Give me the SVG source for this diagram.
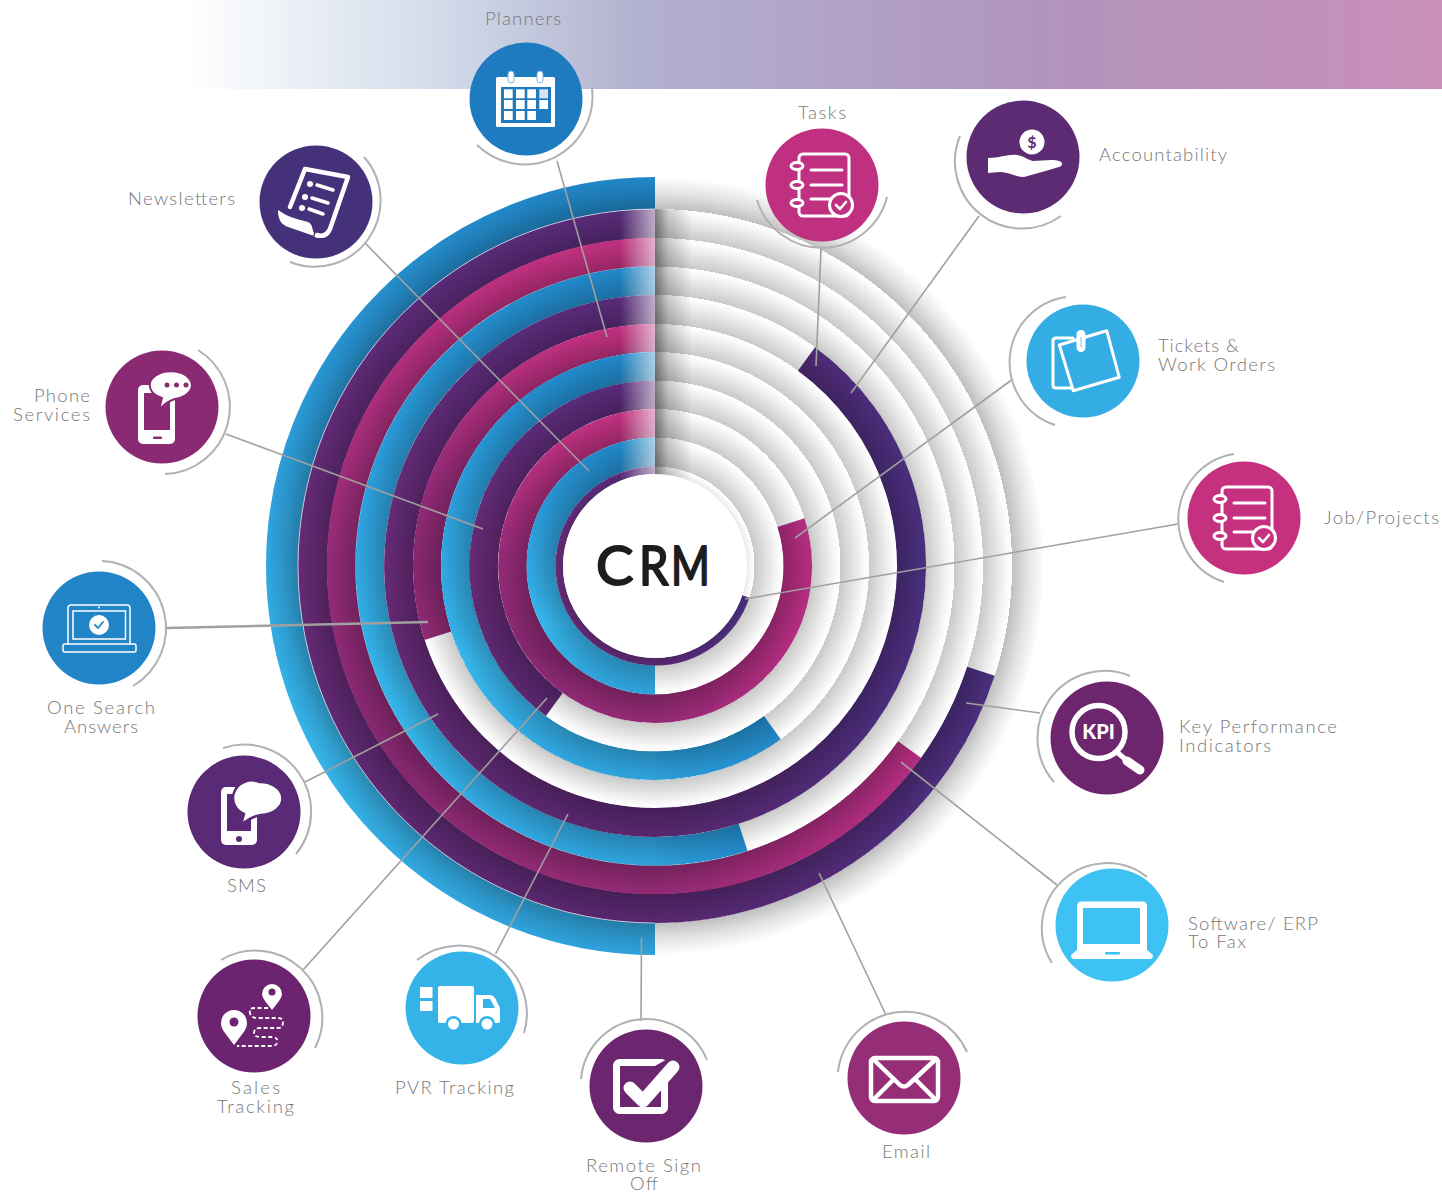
<svg xmlns="http://www.w3.org/2000/svg" width="1442" height="1193" viewBox="0 0 1442 1193">
<style>
.t{font-family:"Lato","Open Sans","Liberation Sans",sans-serif;font-weight:300;font-size:18.5px;fill:#777}
.bL{fill:none;stroke:url(#blueL)}.bR{fill:none;stroke:url(#blueR)}
.pL{fill:none;stroke:url(#purL)}.pR{fill:none;stroke:url(#purR)}
.mL{fill:none;stroke:url(#magL)}.mR{fill:none;stroke:url(#magR)}
.con{stroke:#a0a0a0;stroke-width:1.6;fill:none}
.arc{stroke:#b1b1b3;stroke-width:2;fill:none}
.w{fill:#fff}.ws{fill:none;stroke:#fff;stroke-linecap:round;stroke-linejoin:round}
</style>
<defs>
<linearGradient id="head" x1="0" x2="1" y1="0" y2="0"><stop offset="0" stop-color="#fff"/><stop offset=".2" stop-color="#d2dcea"/><stop offset=".36" stop-color="#b2b1cf"/><stop offset=".68" stop-color="#b194bc"/><stop offset="1" stop-color="#c98fb9"/></linearGradient>
<linearGradient id="blueL" x1="0" y1="0" x2="0" y2="1"><stop offset="0" stop-color="#2188c9"/><stop offset=".45" stop-color="#30a5e0"/><stop offset=".75" stop-color="#37b7ec"/><stop offset="1" stop-color="#2fa3dd"/></linearGradient>
<linearGradient id="blueR" x1="0" y1="0" x2="1" y2="0"><stop offset="0" stop-color="#2da0dc"/><stop offset="1" stop-color="#2289c8"/></linearGradient>
<linearGradient id="purL" x1="0" y1="0" x2="0" y2="1"><stop offset="0" stop-color="#582a78"/><stop offset=".5" stop-color="#662a74"/><stop offset="1" stop-color="#58276e"/></linearGradient>
<linearGradient id="purR" x1="0" y1="0" x2="1" y2="0"><stop offset="0" stop-color="#58276e"/><stop offset="1" stop-color="#4a2e7c"/></linearGradient>
<linearGradient id="magL" x1="0" y1="0" x2="0" y2="1"><stop offset="0" stop-color="#c0307f"/><stop offset=".5" stop-color="#932b78"/><stop offset=".8" stop-color="#862770"/><stop offset="1" stop-color="#922a74"/></linearGradient>
<linearGradient id="magR" x1="0" y1="0" x2="1" y2="0"><stop offset="0" stop-color="#922a74"/><stop offset="1" stop-color="#b42d80"/></linearGradient>
<radialGradient id="saw" gradientUnits="userSpaceOnUse" cx="655" cy="566" r="395">
<stop offset="23.29%" stop-opacity=".08"/><stop offset="25%" stop-opacity="0"/><stop offset="25.19%" stop-opacity="0"/>
<stop offset="25.19%" stop-opacity=".21"/><stop offset="28.49%" stop-opacity=".11"/><stop offset="31.43%" stop-opacity=".02"/><stop offset="32.53%" stop-opacity="0"/>
<stop offset="32.53%" stop-opacity=".21"/><stop offset="35.78%" stop-opacity=".11"/><stop offset="38.67%" stop-opacity=".02"/><stop offset="39.75%" stop-opacity="0"/>
<stop offset="39.75%" stop-opacity=".21"/><stop offset="42.99%" stop-opacity=".11"/><stop offset="45.88%" stop-opacity=".02"/><stop offset="46.96%" stop-opacity="0"/>
<stop offset="46.96%" stop-opacity=".21"/><stop offset="50.21%" stop-opacity=".11"/><stop offset="53.1%" stop-opacity=".02"/><stop offset="54.18%" stop-opacity="0"/>
<stop offset="54.18%" stop-opacity=".21"/><stop offset="57.37%" stop-opacity=".11"/><stop offset="60.21%" stop-opacity=".02"/><stop offset="61.27%" stop-opacity="0"/>
<stop offset="61.27%" stop-opacity=".21"/><stop offset="64.57%" stop-opacity=".11"/><stop offset="67.51%" stop-opacity=".02"/><stop offset="68.61%" stop-opacity="0"/>
<stop offset="68.61%" stop-opacity=".21"/><stop offset="71.85%" stop-opacity=".11"/><stop offset="74.74%" stop-opacity=".02"/><stop offset="75.82%" stop-opacity="0"/>
<stop offset="75.82%" stop-opacity=".21"/><stop offset="79.07%" stop-opacity=".11"/><stop offset="81.95%" stop-opacity=".02"/><stop offset="83.04%" stop-opacity="0"/>
<stop offset="83.04%" stop-opacity=".21"/><stop offset="86.34%" stop-opacity=".11"/><stop offset="89.28%" stop-opacity=".02"/><stop offset="90.38%" stop-opacity="0"/>
<stop offset="90.38%" stop-opacity=".25"/><stop offset="94.37%" stop-opacity=".11"/><stop offset="98.6%" stop-opacity="0"/>
</radialGradient>
<linearGradient id="fade"><stop offset="0" stop-color="#fff" stop-opacity="0"/><stop offset="1" stop-color="#fff" stop-opacity=".62"/></linearGradient>
<linearGradient id="shade"><stop offset="0" stop-opacity=".5"/><stop offset=".35" stop-opacity=".2"/><stop offset="1" stop-opacity="0"/></linearGradient>
<clipPath id="c357"><circle cx="655" cy="566" r="357"/></clipPath>
<g id="notebook">
<rect x="-23" y="-31" width="50" height="62" rx="4" fill="none" stroke="#fff" stroke-width="3"/>
<g fill="currentColor" stroke="#fff" stroke-width="3"><ellipse cx="-25" cy="-19" rx="6" ry="3.5"/><ellipse cx="-25" cy="0" rx="6" ry="3.5"/><ellipse cx="-25" cy="18" rx="6" ry="3.5"/></g>
<path class="ws" stroke-width="3" d="M-11-15H20M-11 0H20M-11 14H8"/>
<circle cx="19" cy="20" r="11.5" fill="currentColor" stroke="#fff" stroke-width="3"/>
<path class="ws" stroke-width="2.6" d="M14 20l4 4 6-7"/>
</g>
</defs>

<rect x="185" y="0" width="1257" height="89" fill="url(#head)"/>

<g id="rings" stroke-linecap="butt">
<path class="bL" stroke-width="32" d="M655 193A373 373 0 0 0 655 939"/>
<path class="pL" stroke-width="29" d="M655 223.5A342.500 342.500 0 0 0 655 908.5"/>
<path class="pR" stroke-width="29" d="M654.500 908.500A342.500 342.500 0 0 0 980.900 671.300"/>
<path class="mL" stroke-width="28.500" d="M655 252A314 314 0 0 0 655 880"/>
<path class="mR" stroke-width="28.500" d="M654.500 880A314 314 0 0 0 909.700 749.700"/>
<path class="bL" stroke-width="28.500" d="M655 280.750A285.250 285.250 0 0 0 655 851.250"/>
<path class="bR" stroke-width="28.500" d="M654.500 851.250A285.250 285.250 0 0 0 743.100 837.300"/>
<path class="pL" stroke-width="29" d="M655 309.500A256.500 256.500 0 0 0 655 822.500"/>
<path class="pR" stroke-width="29" d="M654.500 822.500A256.500 256.500 0 0 0 806.500 359"/>
<path class="mL" stroke-width="28" d="M655 338A228 228 0 0 0 437.900 635.700"/>
<path class="bL" stroke-width="28.500" d="M655 366.250A199.750 199.750 0 0 0 655 765.750"/>
<path class="bR" stroke-width="28.500" d="M654.500 765.750A199.750 199.750 0 0 0 772.400 727.600"/>
<path class="pL" stroke-width="28.500" d="M655 394.750A171.250 171.250 0 0 0 554.300 704.500"/>
<path class="mL" stroke-width="28.500" d="M655 423.250A142.750 142.750 0 0 0 655 708.750"/>
<path class="mR" stroke-width="28.500" d="M654.500 708.750A142.750 142.750 0 0 0 791 522.600"/>
<path class="bL" stroke-width="29" d="M655 452A114 114 0 0 0 655 680"/>
<path class="pL" stroke-width="7.500" d="M655 470.250A95.750 95.750 0 0 0 655 661.750"/>
<path class="pR" stroke-width="7.500" d="M654.500 661.750A95.750 95.750 0 0 0 745.800 596.500"/>
<circle cx="655" cy="566" r="395" fill="url(#saw)"/>
<path d="M655 209A357 357 0 0 0 655 923" fill="none" stroke="#fff" stroke-opacity=".7" stroke-width=".9"/>
<g clip-path="url(#c357)">
<rect x="620" y="205" width="35" height="280" fill="url(#fade)"/>
<rect x="655" y="205" width="37" height="280" fill="url(#shade)"/>
</g>
</g>

<g id="connectors">
<path class="con" d="M557 161L607 337"/>
<path class="con" d="M365 243L589 471"/>
<path class="con" d="M226 434L483 529"/>
<path class="con" style="stroke-width:2.400" d="M167 628L428 622"/>
<path class="con" d="M305 782L438 714"/>
<path class="con" d="M303 970L547 698"/>
<path class="con" d="M495.500 954L568 814"/>
<path class="con" d="M641.500 938L641 1021"/>
<path class="con" d="M819 873L886 1015"/>
<path class="con" d="M901 762L1057 885"/>
<path class="con" d="M966 703L1040 713"/>
<path class="con" d="M745 599L1178 524"/>
<path class="con" d="M795 538L1013 379"/>
<path class="con" d="M851 393L979 216"/>
<path class="con" d="M816 366L821 249"/>
</g>

<g id="node-crm">
<circle cx="655" cy="566" r="92" fill="#fff"/>
<g font-family="Lato,'Open Sans',sans-serif" font-weight="400" font-size="55" fill="#1d1d1b" stroke="#1d1d1b" stroke-width="2" stroke-linejoin="round">
<text transform="translate(596 585) scale(1.02 1)">C</text>
<text transform="translate(639 585) scale(.86 1)">R</text>
<text transform="translate(671 585) scale(.76 1)">M</text>
</g>
</g>

<g id="node-planners">
<path class="arc" d="M592 88A68 68 0 0 1 477 145"/>
<circle cx="526" cy="99" r="56.500" fill="#1e7bc0"/>
<g transform="translate(526 99)">
<rect x="-30" y="-22" width="59" height="50" rx="1.500" class="w"/>
<rect x="-25" y="-12" width="50" height="36" fill="#1e7bc0"/>
<g class="w"><rect x="-22" y="-9.700" width="8.700" height="9"/><rect x="-10" y="-9.700" width="8.700" height="9"/><rect x="1.300" y="-9.700" width="8.700" height="9"/><rect x="13.300" y="-9.700" width="8.700" height="9" fill="#d8e4f2"/><rect x="-22" y="1" width="8.700" height="9"/><rect x="-10" y="1" width="8.700" height="9"/><rect x="1.300" y="1" width="8.700" height="9"/><rect x="13.300" y="1" width="8.700" height="9"/><rect x="-22" y="12" width="8.700" height="9"/><rect x="-10" y="12" width="8.700" height="9"/><rect x="1.300" y="12" width="8.700" height="9"/></g>
<rect x="-18" y="-28" width="6" height="12" rx="3" fill="#fff" stroke="#7fb3dc" stroke-width="1"/><rect x="11" y="-28" width="6" height="12" rx="3" fill="#fff" stroke="#7fb3dc" stroke-width="1"/>
</g>
<text class="t" x="485" y="25" textLength="76">Planners</text>
</g>

<g id="node-tasks">
<path class="arc" d="M757 200A67.500 67.500 0 0 0 887 197"/>
<circle cx="822" cy="185" r="56.500" fill="#bf3180"/>
<use href="#notebook" transform="translate(822 185)" color="#bf3180"/>
<text class="t" x="798" y="119" textLength="48">Tasks</text>
</g>

<g id="node-accountability">
<path class="arc" d="M960 136A67 67 0 0 0 1061 216"/>
<circle cx="1023" cy="157" r="56.500" fill="#5c2b73"/>
<circle cx="1032" cy="142" r="12.500" class="w"/>
<text x="1032" y="148" text-anchor="middle" font-family="Lato,sans-serif" font-weight="700" font-size="16" fill="#5c2b73">$</text>
<path class="w" d="M988 158C1000 158 1008 154 1017 155C1024 156 1028 160 1033 161C1042 161 1052 159 1059 161C1063 162 1063 166 1059 167C1048 170 1036 174 1024 177C1016 177 1008 172 1000 172L988 173Z"/>
<text class="t" x="1099" y="161" textLength="128">Accountability</text>
</g>

<g id="node-tickets">
<path class="arc" d="M1066 297A66 66 0 0 0 1055 425"/>
<circle cx="1083" cy="361" r="56.500" fill="#33ade3"/>
<g transform="translate(1083 361)">
<path class="ws" stroke-width="3" d="M-10-23H-27Q-30-23-30-20V24Q-30 27-27 27H-9"/>
<path class="ws" stroke-width="3" style="fill:#33ade3" d="M-23.700-16L23.700-30.300L36.300 16.300L-9.700 29.700Z"/>
<rect x="-6.500" y="-31" width="9" height="22" rx="4.500" class="w"/><path d="M-2-24V-14" stroke="#8fd0ef" stroke-width="1.200"/>
</g>
<text class="t" x="1158" y="352" textLength="81">Tickets &amp;</text>
<text class="t" x="1158" y="371" textLength="117">Work Orders</text>
</g>

<g id="node-job">
<path class="arc" d="M1234 454A66 66 0 0 0 1224 582"/>
<circle cx="1244" cy="518" r="56.500" fill="#c5317f"/>
<use href="#notebook" transform="translate(1245 518)" color="#c5317f"/>
<text class="t" x="1324" y="524" textLength="115">Job/Projects</text>
</g>

<g id="node-kpi">
<path class="arc" d="M1130 676A67 67 0 0 0 1054 782"/>
<circle cx="1107" cy="738" r="56.500" fill="#6d266e"/>
<g transform="translate(1107 738)">
<circle cx="-8.500" cy="-6" r="26.500" fill="none" stroke="#fff" stroke-width="5.500"/>
<path class="ws" stroke-width="5" d="M11 15L18 21"/><path class="ws" stroke-width="9" d="M20 23L33 32"/>
<text x="-8.500" y="1" text-anchor="middle" font-family="Lato,sans-serif" font-weight="900" font-size="20" fill="#fff">KPI</text>
</g>
<text class="t" x="1179" y="733" textLength="158">Key Performance</text>
<text class="t" x="1179" y="752" textLength="92">Indicators</text>
</g>

<g id="node-software">
<path class="arc" d="M1147 877A65 65 0 0 0 1052 963"/>
<circle cx="1112" cy="925" r="56.500" fill="#3ec1f3"/>
<g transform="translate(1112 925)">
<path class="w" d="M-35-19Q-35-23.500-30-23.500H30Q35-23.500 35-19V25L41 30Q41 34 38 34H-38Q-41 34-41 30L-35 25Z"/>
<rect x="-29" y="-17" width="57" height="36" fill="#3ec1f3"/>
<rect x="-7" y="27" width="15" height="2.500" rx="1" fill="#3ec1f3"/>
</g>
<text class="t" x="1188" y="930" textLength="130">Software/ ERP</text>
<text class="t" x="1188" y="948" textLength="58">To Fax</text>
</g>

<g id="node-email">
<path class="arc" d="M838 1072A67.600 67.600 0 0 1 967 1052"/>
<circle cx="904" cy="1078" r="56.500" fill="#962d77"/>
<g transform="translate(904 1078)" class="ws" stroke-width="4.500">
<rect x="-33" y="-20" width="67" height="43" rx="4"/>
<path d="M-31-19L-4 7Q0 10 4 7L32-19M-31 22L-10 1M32 22L11 1"/>
</g>
<text class="t" x="882" y="1158" textLength="48">Email</text>
</g>

<g id="node-remote">
<path class="arc" d="M581 1079A65.500 65.500 0 0 1 707 1060"/>
<circle cx="646" cy="1086" r="56.500" fill="#6c266f"/>
<g transform="translate(646 1086)">
<rect x="-29.500" y="-23.500" width="48" height="48" rx="3" fill="none" stroke="#fff" stroke-width="7"/>
<path class="ws" style="stroke:#6c266f" stroke-width="19" d="M14-12L30-21"/>
<path class="ws" stroke-width="13" d="M-16 2L-3 15L27-19"/>
</g>
<text class="t" x="586" y="1172" textLength="115">Remote Sign</text>
<text class="t" x="630" y="1190" textLength="28">Off</text>
</g>

<g id="node-pvr">
<path class="arc" d="M417 960A68 68 0 0 1 524 1033"/>
<circle cx="462" cy="1008" r="56.500" fill="#35b2e8"/>
<g transform="translate(462 1008)">
<g class="w"><rect x="-42" y="-21" width="12.500" height="11"/><rect x="-42" y="-7" width="12.500" height="10"/><rect x="-24" y="-22" width="36" height="37" rx="2"/><path d="M14-13H28Q31-13 33-10L38 0V13Q38 15 36 15H14Z"/></g>
<path d="M21-9H28L33 0H21Z" fill="#35b2e8"/>
<circle cx="-8.500" cy="16" r="8" fill="#35b2e8"/><circle cx="-8.500" cy="16" r="5.500" class="w"/>
<circle cx="25" cy="16" r="8" fill="#35b2e8"/><circle cx="25" cy="16" r="5.500" class="w"/>
</g>
<text class="t" x="395" y="1094" textLength="119">PVR Tracking</text>
</g>

<g id="node-sales">
<path class="arc" d="M221 960A67 67 0 0 1 315 1048"/>
<circle cx="254" cy="1016" r="56.500" fill="#6c2470"/>
<g transform="translate(254 1016)">
<path class="w" d="M18-6L11-15Q8-19 8-22A10 10 0 0 1 28-22Q28-19 25-15Z"/><circle cx="18" cy="-24" r="3.500" fill="#6c2470"/>
<path class="w" d="M-20 29L-29 17Q-33 12-33 7A13 13 0 0 1-7 7Q-7 12-11 17Z"/><circle cx="-20" cy="6" r="4.500" fill="#6c2470"/>
<path fill="none" stroke="#fff" stroke-width="1.800" stroke-dasharray="4 2.500" d="M14-8H0Q-5-8-4-3Q-3 2 3 2H24Q29 2 29 6Q29 12 24 12H6Q0 12 0 17Q0 21 6 21H18Q24 21 23 26Q23 30 18 30H-17"/>
</g>
<text class="t" x="231" y="1094" textLength="49">Sales</text>
<text class="t" x="217" y="1113" textLength="77">Tracking</text>
</g>

<g id="node-sms">
<path class="arc" d="M223 748A67 67 0 0 1 296 854"/>
<circle cx="244" cy="812" r="56.500" fill="#5a2a76"/>
<g transform="translate(244 812)">
<rect x="-23" y="-25" width="36" height="58" rx="5" class="w"/>
<rect x="-17" y="-18" width="24" height="37" fill="#5a2a76"/>
<circle cx="-5" cy="27" r="3" fill="#5a2a76"/>
<path d="M-3 13L0 2A17 16 0 0 1 15.500-30A21.500 16 0 0 1 17 3Q8 4-3 13Z" class="w" stroke="#5a2a76" stroke-width="2.500"/>
</g>
<text class="t" x="227" y="892" textLength="39">SMS</text>
</g>

<g id="node-onesearch">
<path class="arc" d="M102 561A67.200 67.200 0 0 1 133 686"/>
<circle cx="99" cy="628" r="56.500" fill="#2184c7"/>
<g transform="translate(99 628)">
<path class="ws" stroke-width="1.500" d="M-31 16V-20Q-31-23-28-23H28Q31-23 31-20V16"/>
<rect x="-26" y="-17" width="52.500" height="28" fill="none" stroke="#fff" stroke-width="1.500"/>
<rect x="-36" y="16" width="73" height="8" rx="2" fill="none" stroke="#fff" stroke-width="1.500"/>
<circle cx="0" cy="-3" r="10" class="w"/><path d="M-4-3L-1 0L4-6" fill="none" stroke="#2184c7" stroke-width="1.800" stroke-linecap="round"/>
<circle cx="0" cy="-20.500" r="1" class="w"/>
</g>
<text class="t" x="47" y="714" textLength="108">One Search</text>
<text class="t" x="64" y="733" textLength="74">Answers</text>
</g>

<g id="node-phone">
<path class="arc" d="M198 350A67 67 0 0 1 165 474"/>
<circle cx="162" cy="407" r="56.500" fill="#8a2a72"/>
<g transform="translate(162 407)">
<rect x="-24" y="-22" width="37" height="59" rx="5" class="w"/>
<rect x="-18" y="-14" width="26" height="37" fill="#8a2a72"/>
<rect x="-9" y="29.500" width="9" height="2.500" rx="1" fill="#8a2a72"/>
<path d="M-3 3L0-9A21 14 0 1 1 13-8Q5-6-3 3Z" class="w" stroke="#8a2a72" stroke-width="2"/>
<circle cx="5" cy="-22" r="2.500" fill="#8a2a72"/><circle cx="14.500" cy="-22" r="2.500" fill="#8a2a72"/><circle cx="24" cy="-22" r="2.500" fill="#8a2a72"/>
</g>
<text class="t" x="34" y="402" textLength="56">Phone</text>
<text class="t" x="13" y="421" textLength="77">Services</text>
</g>

<g id="node-newsletters">
<path class="arc" d="M364 157A66 66 0 0 1 290 262"/>
<circle cx="316" cy="202" r="56.500" fill="#45317a"/>
<g transform="translate(316 202)">
<path class="ws" stroke-width="4.500" d="M-26 5L-11-33L32-25L14 27Q10 36 1 33"/>
<path class="w" d="M-38 8C-30 14-20 17-8 20C-3 22-4 28-2 31C-4 35 0 36 4 36L-28 25C-36 22-38 16-38 8Z"/>
<circle cx="-6" cy="-18" r="3" class="w"/><circle cx="-11" cy="-5" r="3" class="w"/><circle cx="-14" cy="6" r="3" class="w"/>
<path class="ws" stroke-width="3.500" d="M1-17L17-12M-4-4L12 1M-7 7L7 12"/>
</g>
<text class="t" x="128" y="205" textLength="107">Newsletters</text>
</g>
</svg>
